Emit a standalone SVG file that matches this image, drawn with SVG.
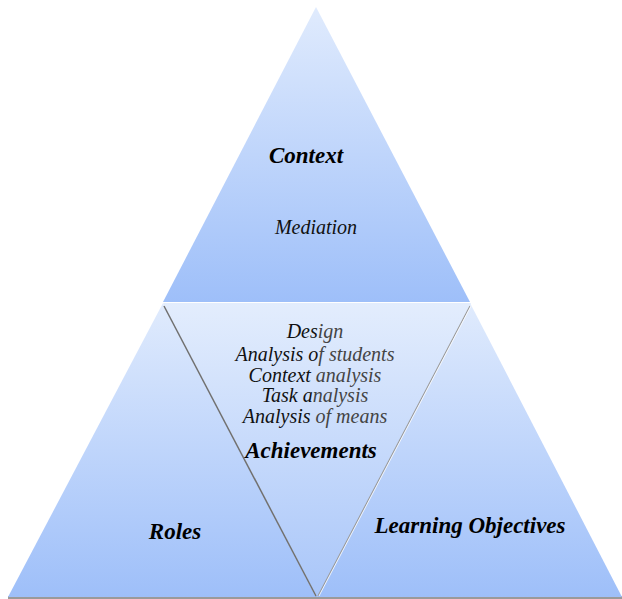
<svg xmlns="http://www.w3.org/2000/svg" width="622" height="599" viewBox="0 0 622 599">
<defs>
<linearGradient id="gTop" x1="0" y1="0" x2="0" y2="1">
<stop offset="0" stop-color="#e0ebfd"/>
<stop offset="1" stop-color="#9ebff9"/>
</linearGradient>
<linearGradient id="gMid" x1="0" y1="0" x2="0" y2="1">
<stop offset="0" stop-color="#e3edfd"/>
<stop offset="1" stop-color="#a9c6f9"/>
</linearGradient>
<linearGradient id="gBot" x1="0" y1="0" x2="0" y2="1">
<stop offset="0" stop-color="#e0ebfd"/>
<stop offset="1" stop-color="#9ebff9"/>
</linearGradient>
<style>
text{font-family:'Liberation Serif','Times New Roman',serif;font-style:italic;text-anchor:middle}
.b{font-weight:bold;font-size:23px;fill:#000}
.r{font-size:20px}
.d{fill:#111}
.g{fill:#444}
</style>
</defs>
<rect width="622" height="599" fill="#ffffff"/>
<g id="shadow">
<rect x="8" y="596" width="614" height="3" fill="#9a9a9a"/>
</g>
<g id="context" font-family="Liberation Serif, serif">
<polygon points="316,7 470,302 163,302" fill="url(#gTop)"/>
<text class="b" x="306" y="163">Context</text>
<text class="r d" x="316" y="234">Mediation</text>
</g>
<g id="roles" font-family="Liberation Serif, serif">
<polygon points="163,303 316,597 8,597" fill="url(#gBot)"/>
<text class="b" x="175" y="539">Roles</text>
</g>
<g id="objectives" font-family="Liberation Serif, serif">
<polygon points="470,303 622,597 316,597" fill="url(#gBot)"/>
<text class="b" x="470" y="533">Learning Objectives</text>
</g>
<g id="achievements" font-family="Liberation Serif, serif">
<polygon points="163,303 471,303 317,597" fill="url(#gMid)"/>
<text class="r" x="315" y="338"><tspan class="d">Des</tspan><tspan class="g">ign</tspan></text>
<text class="r" x="315" y="361"><tspan class="d">Analysis o</tspan><tspan class="g">f students</tspan></text>
<text class="r" x="315" y="382"><tspan class="d">Context </tspan><tspan class="g">analysis</tspan></text>
<text class="r" x="315" y="402"><tspan class="d">Task a</tspan><tspan class="g">nalysis</tspan></text>
<text class="r" x="315" y="423"><tspan class="d">Analysis </tspan><tspan class="g">of means</tspan></text>
<text class="b" x="311" y="458">Achievements</text>
</g>
<g id="connectors">
<line x1="164" y1="306" x2="316" y2="596" stroke="#707070" stroke-width="1.5"/>
<line x1="470" y1="306" x2="318" y2="596" stroke="#9a9a9a" stroke-width="1.2"/>
<line x1="471" y1="306" x2="319" y2="596" stroke="#ffffff" stroke-width="0.8"/>
</g>
</svg>
